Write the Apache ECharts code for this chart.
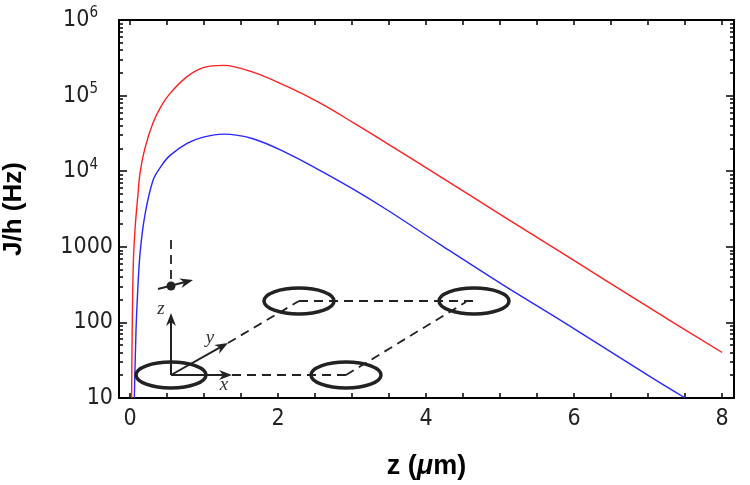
<!DOCTYPE html>
<html>
<head>
<meta charset="utf-8">
<script src="https://cdn.jsdelivr.net/npm/echarts@6/dist/echarts.min.js"></script>
<style>
  html, body { margin: 0; padding: 0; background: #fff; }
  #main { width: 750px; height: 485px; }
</style>
</head>
<body>
<div id="main"></div>
<script>
// red curve: z (um) and J/h (Hz)
const redZ = [0.02, 0.03, 0.045, 0.07, 0.1, 0.135, 0.2, 0.31, 0.42, 0.54, 0.77, 0.99, 1.26, 1.66, 2.12, 2.57, 3.02, 3.47, 4.19, 5.0, 5.9, 7.07, 8.0];
const redJ = [10, 112, 676, 1900, 4200, 9550, 20000, 43600, 72400, 107000, 178000, 234000, 251000, 204000, 132000, 79400, 43600, 23400, 8500, 2690, 759, 145, 40];

// blue curve
const blueZ = [0.057, 0.08, 0.1, 0.135, 0.2, 0.31, 0.42, 0.54, 0.77, 0.99, 1.26, 1.66, 2.12, 2.57, 3.02, 3.47, 4.19, 5.0, 5.9, 7.07, 7.5];
const blueJ = [10, 79, 229, 832, 2630, 7590, 11700, 16200, 23400, 28200, 30900, 26900, 17400, 10200, 5750, 3090, 1070, 331, 95, 18, 10];

// tick labels and tick positions
const xLabels = [0, 2, 4, 6, 8];
const xTicks = [0, 0.5, 1, 1.5, 2, 2.5, 3, 3.5, 4, 4.5, 5, 5.5, 6, 6.5, 7, 7.5, 8];
const yDecades = [1, 2, 3, 4, 5, 6];
const yMinorMult = [2, 3, 4, 5, 6, 7, 8, 9];

// minor ticks of log axis, in exponent space
const yMinorTicks = [];
yDecades.slice(0, 5).forEach((d) => {
  yMinorMult.forEach((m) => yMinorTicks.push(d + Math.log10(m)));
});

const toPairs = (xs, ys) => xs.map((x, i) => [x, ys[i]]);

const numFont = "'Liberation Sans Narrow', 'DejaVu Sans Condensed', sans-serif";
const inkColor = "#222";

var myChart = echarts.init(document.getElementById("main"));

// x axes, bottom with labels and top mirror
const makeX = (pos, showLabel) => ({
  type: "value",
  position: pos,
  min: -0.15,
  max: 8.16,
  splitLine: { show: false },
  axisLine: { onZero: false, lineStyle: { color: "#000", width: 2 } },
  axisTick: { inside: true, length: 5, customValues: xTicks, lineStyle: { color: "#000", width: 1.5 } },
  axisLabel: {
    show: showLabel,
    customValues: xLabels,
    margin: 10,
    fontFamily: numFont,
    fontSize: 23,
    color: inkColor,
  },
});

// helper value axes in exponent space for ticks only
const makeTickY = (pos, ticks, len) => ({
  type: "value",
  position: pos,
  min: 1,
  max: 6,
  splitLine: { show: false },
  axisLine: { show: pos === "right", onZero: false, lineStyle: { color: "#000", width: 2 } },
  axisTick: { inside: true, length: len, customValues: ticks, lineStyle: { color: "#000", width: 1.5 } },
  axisLabel: { show: false },
});

// arrow: line plus triangular head
const arrow = (x1, y1, x2, y2) => {
  const a = Math.atan2(y2 - y1, x2 - x1);
  const L = 13, W = 5;
  const bx = x2 - L * Math.cos(a), by = y2 - L * Math.sin(a);
  const nx = -Math.sin(a), ny = Math.cos(a);
  const mx = x2 - 0.7 * L * Math.cos(a), my = y2 - 0.7 * L * Math.sin(a);
  return [
    { type: "line", shape: { x1: x1, y1: y1, x2: mx, y2: my }, style: { stroke: inkColor, lineWidth: 2 }, z: 100 },
    {
      type: "polygon",
      shape: { points: [[x2, y2], [bx + W * nx, by + W * ny], [mx, my], [bx - W * nx, by - W * ny]] },
      style: { fill: inkColor },
      z: 100,
    },
  ];
};

const dashed = (x1, y1, x2, y2) => ({
  type: "line",
  shape: { x1: x1, y1: y1, x2: x2, y2: y2 },
  style: { stroke: inkColor, lineWidth: 1.8, lineDash: [9, 6] },
  z: 100,
});

const ring = (cx, cy) => ({
  type: "ellipse",
  shape: { cx: cx, cy: cy, rx: 35, ry: 13 },
  style: { fill: "none", stroke: inkColor, lineWidth: 3.5 },
  z: 100,
});

const axisLetter = (t, x, y) => ({
  type: "text",
  x: x,
  y: y,
  style: {
    text: t,
    font: "italic 19px 'Liberation Serif', serif",
    fill: "#333",
    align: "center",
    verticalAlign: "middle",
  },
  z: 100,
});

// inset lattice sketch
const insetGraphic = [].concat(
  [
    dashed(232, 375, 346, 375),
    dashed(346, 375, 466, 302),
    dashed(228, 343, 299, 301),
    dashed(299, 301, 474, 301),
    dashed(171, 240, 171, 283),
    ring(171, 375),
    ring(346, 375),
    ring(299, 301),
    ring(474, 301),
  ],
  arrow(171, 375, 171, 313),
  arrow(171, 375, 232, 375),
  arrow(171, 375, 228, 343),
  arrow(158, 289, 193, 280),
  [
    { type: "circle", shape: { cx: 171, cy: 286, r: 4.5 }, style: { fill: inkColor }, z: 101 },
    axisLetter("z", 161, 309),
    axisLetter("y", 210, 338),
    axisLetter("x", 224, 385),
  ]
);

var option = {
  animation: false,
  backgroundColor: "#fff",
  grid: { left: 119, right: 16, top: 20, bottom: 87, containLabel: false, outerBoundsMode: "none" },
  xAxis: [
    Object.assign(makeX("bottom", true), {
      name: "z ({i|μ}m)",
      nameLocation: "middle",
      nameGap: 55,
      nameTextStyle: {
        fontFamily: "'Liberation Sans', Arial, sans-serif",
        fontWeight: "bold",
        fontSize: 27,
        color: "#000",
        rich: {
          i: { fontFamily: "'Liberation Sans', Arial, sans-serif", fontWeight: "bold", fontStyle: "italic", fontSize: 27, color: "#000" },
        },
      },
    }),
    makeX("top", false),
  ],
  yAxis: [
    {
      type: "log",
      logBase: 10,
      position: "left",
      min: 10,
      max: 1000000,
      splitLine: { show: false },
      axisLine: { onZero: false, lineStyle: { color: "#000", width: 2 } },
      axisTick: { inside: true, length: 8, lineStyle: { color: "#000", width: 1.5 } },
      axisLabel: {
        margin: 6,
        fontFamily: numFont,
        fontSize: 23,
        color: inkColor,
        formatter: function (v) {
          const p = Math.round(Math.log10(v));
          if (p <= 3) return String(Math.pow(10, p));
          return "{b|10}{s|" + p + "}{g|}";
        },
        rich: {
          b: { fontFamily: numFont, fontSize: 23, color: inkColor, lineHeight: 28 },
          s: { fontFamily: numFont, fontSize: 15, color: inkColor, lineHeight: 14, verticalAlign: "top" },
          g: { width: 15 },
        },
      },
      name: "J/h (Hz)",
      nameLocation: "middle",
      nameRotate: 90,
      nameGap: 92,
      nameTextStyle: {
        fontFamily: "'Liberation Sans', Arial, sans-serif",
        fontWeight: "bold",
        fontSize: 26,
        color: "#000",
      },
    },
    makeTickY("right", yDecades, 8),
    makeTickY("left", yMinorTicks, 4),
    makeTickY("right", yMinorTicks, 4),
  ],
  series: [
    {
      name: "red",
      type: "line",
      xAxisIndex: 0,
      yAxisIndex: 0,
      data: toPairs(redZ, redJ),
      smooth: 0.35,
      showSymbol: false,
      lineStyle: { color: "#ff2020", width: 1.4 },
      z: 5,
    },
    {
      name: "blue",
      type: "line",
      xAxisIndex: 0,
      yAxisIndex: 0,
      data: toPairs(blueZ, blueJ),
      smooth: 0.35,
      showSymbol: false,
      lineStyle: { color: "#2828ff", width: 1.4 },
      z: 5,
    },
  ],
  graphic: insetGraphic,
};

myChart.setOption(option);
</script>
</body>
</html>
